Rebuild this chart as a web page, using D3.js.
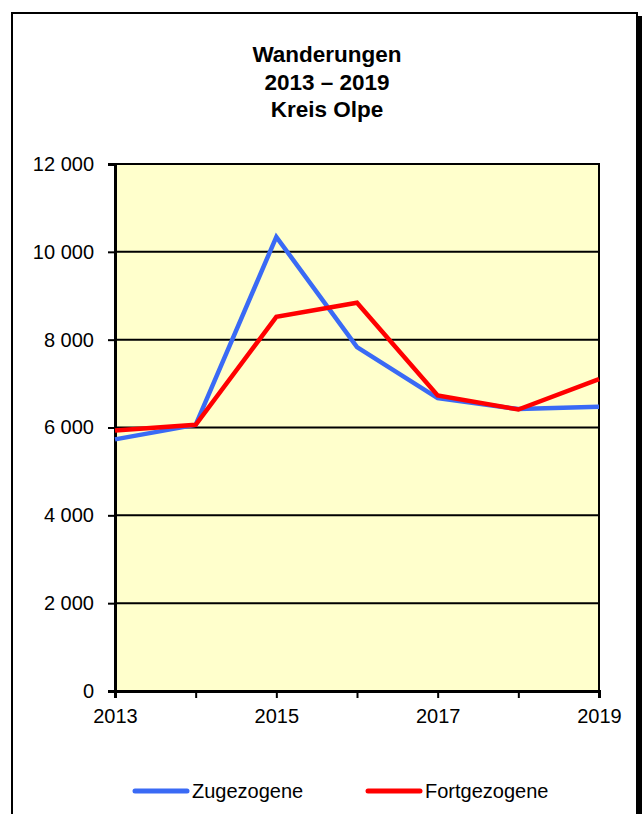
<!DOCTYPE html>
<html>
<head>
<meta charset="utf-8">
<script src="https://cdn.jsdelivr.net/npm/d3@7"></script>
<style>
body { margin: 0; background: #fff; }
text { font-family: "Liberation Sans", Arial, sans-serif; }
</style>
</head>
<body>
<script>
// data
var years = [2013, 2014, 2015, 2016, 2017, 2018, 2019];
var zugezogene = [5730, 6060, 10340, 7830, 6670, 6420, 6470];
var fortgezogene = [5930, 6060, 8520, 8840, 6730, 6410, 7100];
var yTicks = [0, 2000, 4000, 6000, 8000, 10000, 12000];
var xLabels = [2013, 2015, 2017, 2019];
var titleLines = ['Wanderungen', '2013 \u2013 2019', 'Kreis Olpe'];
var seriesNames = ['Zugezogene', 'Fortgezogene'];
var seriesColors = ['#3a6af5', '#ff0000'];

var w = 643, h = 814;
var mLeft = 115, mRight = 599, mTop = 164, mBottom = 691;

var svg = d3.select('body').append('svg')
	.attr('width', w)
	.attr('height', h);

// frame with shadow
svg.append('rect')
	.attr('x', 638).attr('y', 16)
	.attr('width', 4).attr('height', h)
	.attr('fill', '#000');
svg.append('rect')
	.attr('x', 12).attr('y', 13)
	.attr('width', 625).attr('height', h + 20)
	.attr('fill', '#fff')
	.attr('stroke', '#000')
	.attr('stroke-width', 2);

// title
svg.append('g').selectAll('text')
	.data(titleLines)
	.enter()
	.append('text')
	.attr('x', 327)
	.attr('y', function(d, i){ return 62 + i*27.5; })
	.attr('text-anchor', 'middle')
	.attr('font-size', 22.5)
	.attr('font-weight', 'bold')
	.text(function(d){ return d; });

var x = d3.scaleLinear().domain([2013, 2019]).range([mLeft, mRight]);
var y = d3.scaleLinear().domain([0, 12000]).range([mBottom, mTop]);

// plot area
svg.append('rect')
	.attr('x', mLeft).attr('y', mTop)
	.attr('width', mRight - mLeft).attr('height', mBottom - mTop)
	.attr('fill', '#ffffcc')
	.attr('stroke', '#000')
	.attr('stroke-width', 2);

// gridlines
svg.append('g').selectAll('line')
	.data(yTicks)
	.enter()
	.append('line')
	.attr('x1', mLeft).attr('x2', mRight)
	.attr('y1', function(d){ return y(d); })
	.attr('y2', function(d){ return y(d); })
	.attr('stroke', '#000')
	.attr('stroke-width', 2);

function fmt(v){
	return d3.format(',')(v).replace(',', ' ');
}

// y axis
var yAxis = svg.append('g')
	.attr('transform', 'translate(' + mLeft + ',0)')
	.call(d3.axisLeft(y).tickValues(yTicks).tickSize(7).tickPadding(14).tickFormat(fmt));
yAxis.select('.domain').attr('stroke-width', 3);
yAxis.selectAll('.tick line').attr('stroke-width', 2);
yAxis.selectAll('text')
	.attr('font-size', 20)
	.attr('font-family', '"Liberation Sans", Arial, sans-serif')
	.attr('fill', '#000');

// x axis
var xAxis = svg.append('g')
	.attr('transform', 'translate(0,' + mBottom + ')')
	.call(d3.axisBottom(x).tickValues(years).tickSize(7).tickPadding(11)
		.tickFormat(function(d){ return xLabels.indexOf(d) >= 0 ? d : ''; }));
xAxis.select('.domain').attr('stroke-width', 3);
xAxis.selectAll('.tick line').attr('stroke-width', 2);
xAxis.selectAll('text')
	.attr('font-size', 20)
	.attr('font-family', '"Liberation Sans", Arial, sans-serif')
	.attr('fill', '#000');

// lines
var line = d3.line()
	.x(function(d, i){ return x(years[i]); })
	.y(function(d){ return y(d); });

var series = [zugezogene, fortgezogene];
svg.append('g').selectAll('path')
	.data(series)
	.enter()
	.append('path')
	.attr('d', function(d){ return line(d); })
	.attr('fill', 'none')
	.attr('stroke', function(d, i){ return seriesColors[i]; })
	.attr('stroke-width', 4.5)
	.attr('stroke-linejoin', 'miter');

// legend
var legX = [135, 368];
var legend = svg.append('g').selectAll('g')
	.data(seriesNames)
	.enter()
	.append('g')
	.attr('transform', function(d, i){ return 'translate(' + legX[i] + ',791)'; });
legend.append('line')
	.attr('x1', 0).attr('x2', 52)
	.attr('y1', 0).attr('y2', 0)
	.attr('stroke', function(d, i){ return seriesColors[i]; })
	.attr('stroke-width', 5)
	.attr('stroke-linecap', 'round');
legend.append('text')
	.attr('x', 57)
	.attr('y', 6.5)
	.attr('font-size', 20)
	.text(function(d){ return d; });
</script>
</body>
</html>
